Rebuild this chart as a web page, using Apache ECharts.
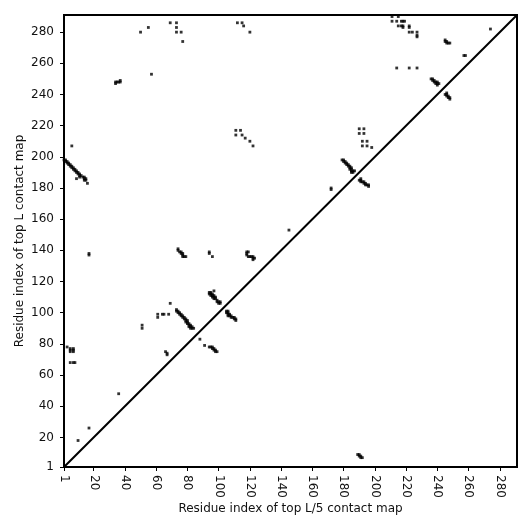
<!DOCTYPE html>
<html>
<head>
<meta charset="utf-8">
<script src="https://cdn.jsdelivr.net/npm/echarts@6/dist/echarts.min.js"></script>
<style>html,body{margin:0;padding:0;background:#fff}#c{width:531px;height:531px}</style>
</head>
<body>
<div id="c"></div>
<script>
const L = 291;
const tickValues = [1,20,40,60,80,100,120,140,160,180,200,220,240,260,280];
const xName = 'Residue index of top L/5 contact map';
const yName = 'Residue index of top L contact map';
const diagonal = [[1,1],[L,L]];
const upperContacts = [
 [1,198],[2,198],[2,197],[3,197],[3,196],[4,196],[4,195],[5,195],[5,194],[6,194],[6,193],[7,193],[7,192],[8,192],[8,191],[9,191],[9,190],[10,190],[10,189],[11,189],[11,188],[12,188],[9,186],[11,187],[13,187],[14,187],[14,186],[15,186],[14,185],[15,185],[16,183],
 [6,207],[17,138],[17,137],
 [34,248],[35,248],[36,248],[37,248],[37,249],[34,247],
 [50,280],[55,283],[57,253],[69,286],[73,286],[73,283],[73,280],[76,280],[77,274],[112,286],[115,286],[116,284],[120,280],
 [111,217],[111,214],[114,217],[115,214],[117,212],[120,210],[122,207],
 [74,141],[74,140],[75,139],[76,139],[76,138],[77,138],[77,137],[78,136],[79,136],[77,136],
 [94,139],[94,138],[96,136],
 [118,139],[119,139],[118,138],[118,137],[119,136],[120,136],[121,136],[122,136],[122,135],[123,135],[122,134],
 [97,114],[94,113],[95,113],[94,112],[95,112],[96,112],[95,111],[96,111],[97,111],[96,110],[97,110],[98,110],[97,109],[98,109],[99,108],[99,107],[100,107],[101,107],[100,106],[101,106],
 [73,102],[73,101],[74,101],[74,100],[75,100],[75,99],[76,99],[76,98],[77,98],[77,97],[78,97],[78,96],[79,96],[79,95],[80,95],[79,94],[80,94],[80,93],[81,93],[81,92],[82,92],[81,91],[82,91],[83,91],[82,90],[83,90],[84,90],
 [69,106],[61,99],[61,97],[64,99],[65,99],[68,99],[51,92],[51,90],[66,75],[67,74],[67,73],
 [179,198],[180,198],[180,197],[181,197],[181,196],[182,196],[182,195],[183,195],[183,194],[184,194],[184,193],[185,193],[184,192],[185,192],[185,191],[186,191],[185,190],[186,190],[187,191],
 [190,218],[193,218],[190,215],[193,215],[192,210],[195,210],[192,207],[195,207],[198,206],
 [172,180],[172,179],[145,153],[36,48],[17,26],[10,18],
 [211,290],[215,290],[211,287],[214,287],[217,287],[218,287],[219,287],[215,284],[217,284],[218,284],[218,283],[222,284],[222,283],[222,280],[224,280],[227,280],[227,278],[227,277],
 [245,275],[245,274],[246,274],[246,273],[247,273],[248,273],[274,282],[258,265],[257,265],[214,257],[222,257],[227,257],
 [236,250],[237,250],[237,249],[238,249],[238,248],[239,248],[240,248],[239,247],[240,247],[241,247],[240,246],
 [3,78],[5,77],[7,77],[5,76],[7,76],[5,75],[7,75],[5,68],[7,68],[8,68]
];
const lowerContacts = [
 [105,101],[106,101],[105,100],[106,100],[106,99],[107,99],[106,98],[107,98],[108,98],[108,97],[109,97],[110,97],[110,96],[111,96],[111,95],
 [94,78],[95,78],[96,78],[96,77],[97,77],[97,76],[98,76],[98,75],[99,75],[88,83],[91,79],
 [190,185],[191,185],[191,186],[191,184],[192,184],[193,184],[193,183],[194,183],[194,182],[195,182],[196,182],[196,181],
 [245,240],[246,240],[246,239],[247,239],[247,238],[248,238],[248,237],[246,241],
 [189,9],[190,9],[190,8],[191,8],[191,7],[192,7]
];

const font = 'DejaVu Sans';
const txt = '#111';
function axis(isX){
  return {
    type:'value', min:1, max:L,
    name: isX ? xName : yName,
    nameLocation:'middle',
    nameGap: isX ? 36 : 38,
    nameMoveOverlap:false,
    nameTextStyle:{fontFamily:font,fontSize:12,color:txt},
    axisLine:{show:true,lineStyle:{color:'#000',width:2}},
    axisTick:{show:true,length:4,customValues:tickValues,lineStyle:{color:'#000',width:1}},
    axisLabel:{customValues:tickValues,fontFamily:font,fontSize:12,color:txt,
      rotate: isX ? -90 : 0, margin: isX ? 8 : 10},
    splitLine:{show:false}
  };
}
const chart = echarts.init(document.getElementById('c'),null,{renderer:'canvas'});
chart.setOption({
  animation:false,
  backgroundColor:'#fff',
  grid:{left:64,right:14,top:15,bottom:64,show:true,borderColor:'#000',borderWidth:2,backgroundColor:'transparent'},
  xAxis: axis(true),
  yAxis: axis(false),
  series:[
    {type:'line',data:diagonal,symbol:'none',lineStyle:{color:'#000',width:2},silent:true},
    {type:'scatter',data:upperContacts,symbol:'rect',symbolSize:2.8,itemStyle:{color:'#000'}},
    {type:'scatter',data:lowerContacts,symbol:'rect',symbolSize:2.8,itemStyle:{color:'#000'}}
  ]
});
</script>
</body>
</html>
